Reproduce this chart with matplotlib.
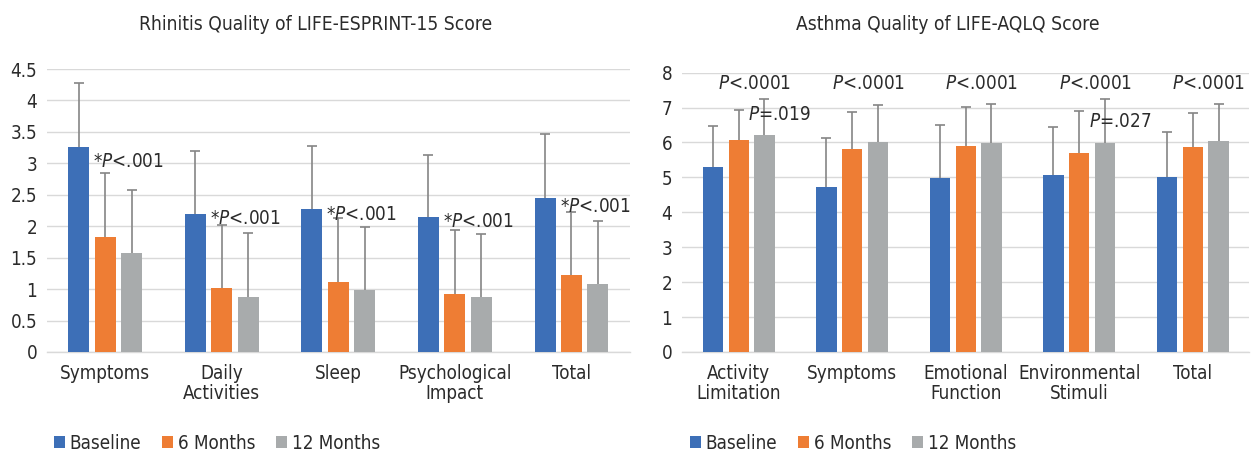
import numpy as np
import matplotlib as mpl
mpl.use("Agg")
import matplotlib.pyplot as plt
from matplotlib.patches import Patch
from matplotlib import font_manager

# condensed face if the system has one
narrow = None
for f in font_manager.fontManager.ttflist:
    if f.style == "normal" and f.weight in (400, "normal", "regular") and \
            (f.stretch in ("condensed", "semi-condensed") or "Narrow" in f.name or "Condensed" in f.name):
        narrow = f
        if f.name.startswith("DejaVu"):
            break
if narrow is not None:
    plt.rcParams["font.family"] = [narrow.name, "DejaVu Sans"]
    plt.rcParams["font.stretch"] = narrow.stretch
    SCALE = 1.0
else:
    plt.rcParams["font.family"] = ["Open Sans", "DejaVu Sans"]
    SCALE = 0.88
plt.rcParams["mathtext.fontset"] = "custom"
plt.rcParams["mathtext.it"] = plt.rcParams["font.family"][0] + ":italic"
plt.rcParams["mathtext.rm"] = plt.rcParams["font.family"][0]

# ---------------- data ----------------
series = ["Baseline", "6 Months", "12 Months"]

rh_cats = ["Symptoms", "Daily\nActivities", "Sleep", "Psychological\nImpact", "Total"]
rh_mean = {
    "Baseline":  [3.26, 2.19, 2.27, 2.14, 2.45],
    "6 Months":  [1.83, 1.01, 1.12, 0.93, 1.22],
    "12 Months": [1.58, 0.88, 0.99, 0.87, 1.08],
}
rh_sd = {
    "Baseline":  [1.01, 1.01, 1.01, 1.00, 1.01],
    "6 Months":  [1.01, 1.01, 1.01, 1.01, 1.01],
    "12 Months": [1.00, 1.01, 1.00, 1.01, 1.01],
}
rh_pval = ["P<.001"] * 5

as_cats = ["Activity\nLimitation", "Symptoms", "Emotional\nFunction", "Environmental\nStimuli", "Total"]
as_mean = {
    "Baseline":  [5.31, 4.73, 4.97, 5.06, 5.01],
    "6 Months":  [6.08, 5.81, 5.90, 5.70, 5.86],
    "12 Months": [6.22, 6.00, 5.99, 5.99, 6.05],
}
as_sd = {
    "Baseline":  [1.17, 1.41, 1.53, 1.39, 1.28],
    "6 Months":  [0.86, 1.05, 1.13, 1.21, 0.99],
    "12 Months": [1.03, 1.08, 1.12, 1.26, 1.06],
}
as_pval = ["P<.0001"] * 5
as_pval2 = {0: "P=.019", 3: "P=.027"}

colors = {"Baseline": "#3d6fb7", "6 Months": "#ee7d34", "12 Months": "#a8abac"}
err_color = "#858585"
grid_color = "#d9d9d9"
txt = "#2b2b2b"

W = 0.18
OFF = [-0.227, 0.0, 0.227]
FS = 13.5 * SCALE


def draw(ax, cats, mean, sd, ymax, yticks, ticklabels):
    x = np.arange(len(cats))
    for i, s in enumerate(series):
        m = np.array(mean[s])
        e = np.array(sd[s])
        ax.bar(x + OFF[i], m, W, color=colors[s], zorder=3)
        ax.vlines(x + OFF[i], m, m + e, color=err_color, lw=1.2, zorder=4)
        ax.plot(x + OFF[i], m + e, ls="none", marker="_", ms=7, mew=1.2,
                color=err_color, zorder=4)
    ax.set_xlim(-0.5, len(cats) - 0.5)
    ax.set_ylim(0, ymax)
    ax.set_yticks(yticks)
    ax.set_yticklabels(ticklabels, fontsize=FS, color=txt)
    ax.set_xticks(x)
    ax.set_xticklabels(cats, fontsize=FS, color=txt, linespacing=1.05)
    ax.tick_params(axis="x", length=0, pad=9)
    ax.tick_params(axis="y", length=0, pad=7)
    ax.grid(axis="y", color=grid_color, lw=1.0, zorder=0)
    for sp in ["top", "right", "left"]:
        ax.spines[sp].set_visible(False)
    ax.spines["bottom"].set_color(grid_color)
    ax.spines["bottom"].set_linewidth(1.0)


fig = plt.figure(figsize=(12.52, 4.54), dpi=100)
ax1 = fig.add_axes([0.0375, 0.2247, 0.4655, 0.6233])
ax2 = fig.add_axes([0.5447, 0.2247, 0.4533, 0.6153])

draw(ax1, rh_cats, rh_mean, rh_sd, 4.5, np.arange(0, 4.51, 0.5),
     ["0", "0.5", "1", "1.5", "2", "2.5", "3", "3.5", "4", "4.5"])
draw(ax2, as_cats, as_mean, as_sd, 8, np.arange(0, 9, 1),
     [str(v) for v in range(9)])

# rhinitis annotations: right of baseline bar
rh_label_dy = [-0.23, -0.06, -0.08, -0.07, -0.14]
for i, p in enumerate(rh_pval):
    y = rh_mean["Baseline"][i] + rh_label_dy[i]
    ax1.text(i - 0.227 + W / 2 + 0.035, y, "*$\\mathit{P}$" + p[1:], fontsize=FS,
             ha="left", va="center", color=txt, zorder=5)

# asthma annotations
for i, p in enumerate(as_pval):
    ax2.text(i + 0.14, 7.7, "$\\mathit{P}$" + p[1:], fontsize=FS,
             ha="center", va="center", color=txt, zorder=5)
as_label_y = {0: 6.79, 3: 6.60}
for i, p in as_pval2.items():
    ax2.text(i + 0.36, as_label_y[i], "$\\mathit{P}$" + p[1:], fontsize=FS,
             ha="center", va="center", color=txt, zorder=5)

fig.text(0.252, 0.945, "Rhinitis Quality of LIFE-ESPRINT-15 Score", ha="center",
         va="center", fontsize=13.8 * SCALE, color=txt)
fig.text(0.757, 0.945, "Asthma Quality of LIFE-AQLQ Score", ha="center",
         va="center", fontsize=13.8 * SCALE, color=txt)

handles = [Patch(facecolor=colors[s], edgecolor="none", label=s) for s in series]
for xa in (0.037, 0.545):
    fig.legend(handles=handles, loc="center left", bbox_to_anchor=(xa, 0.024),
               ncol=3, frameon=False, fontsize=FS, handlelength=0.6, handleheight=0.6,
               handletextpad=0.25, columnspacing=1.1, borderaxespad=0, labelcolor=txt)

fig.savefig("out.png", dpi=100)
